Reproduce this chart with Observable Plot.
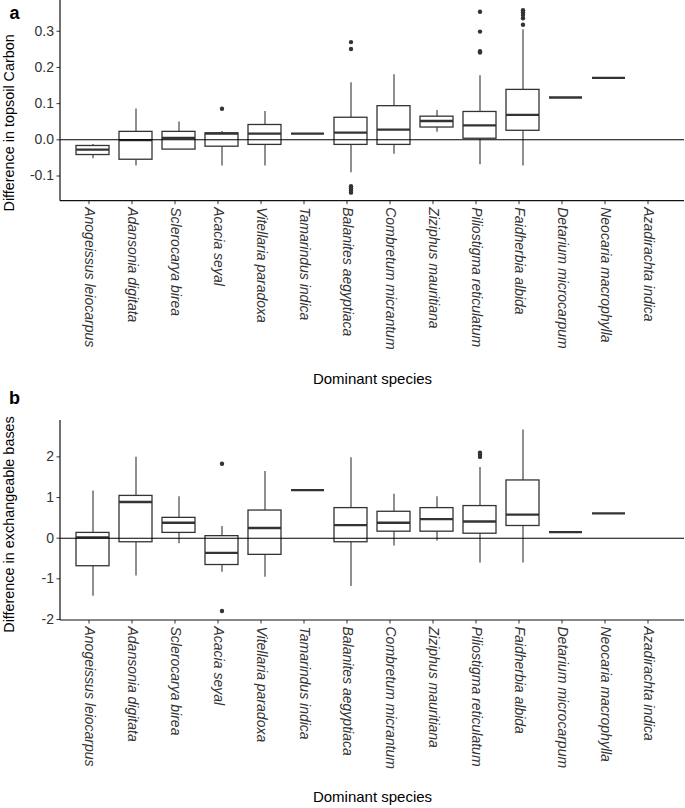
<!DOCTYPE html>
<html>
<head>
<meta charset="utf-8">
<script src="https://cdn.jsdelivr.net/npm/d3@7"></script>
<script src="https://cdn.jsdelivr.net/npm/@observablehq/plot@0.6"></script>
<style>
  html, body { margin: 0; padding: 0; background: #fff; }
  #chart { width: 685px; }
  #chart svg { display: block; }
</style>
</head>
<body>
<div id="chart"></div>
<script>
// ---- Categories ----
const species = [
  "Anogeissus leiocarpus", "Adansonia digitata", "Sclerocarya birea", "Acacia seyal",
  "Vitellaria paradoxa", "Tamarindus indica", "Balanites aegyptiaca", "Combretum micrantum",
  "Ziziphus mauritiana", "Piliostigma reticulatum", "Faidherbia albida",
  "Detarium microcarpum", "Neocaria macrophylla", "Azadirachta indica"
];

// ---- Panel a: difference in topsoil carbon ----
const carbonLow  = [-0.052, -0.072, -0.027, -0.072, -0.072, 0.017, -0.091, -0.040, 0.021, -0.069, -0.072, 0.117, 0.171, null];
const carbonQ1   = [-0.042, -0.055, -0.027, -0.019, -0.014, 0.017, -0.014, -0.014, 0.034,  0.003,  0.025, 0.117, 0.171, null];
const carbonMed  = [-0.027, -0.001,  0.005,  0.017,  0.017, 0.017,  0.020,  0.028, 0.052,  0.040,  0.069, 0.117, 0.171, null];
const carbonQ3   = [-0.017,  0.022,  0.022,  0.018,  0.041, 0.017,  0.061,  0.093, 0.064,  0.077,  0.138, 0.117, 0.171, null];
const carbonHigh = [-0.013,  0.085,  0.049,  0.023,  0.078, 0.017,  0.158,  0.180, 0.081,  0.177,  0.304, 0.117, 0.171, null];
const carbonOutSpecies = [
  "Acacia seyal",
  "Balanites aegyptiaca", "Balanites aegyptiaca", "Balanites aegyptiaca", "Balanites aegyptiaca", "Balanites aegyptiaca", "Balanites aegyptiaca",
  "Piliostigma reticulatum", "Piliostigma reticulatum", "Piliostigma reticulatum", "Piliostigma reticulatum",
  "Faidherbia albida", "Faidherbia albida", "Faidherbia albida", "Faidherbia albida", "Faidherbia albida"
];
const carbonOutValues = [
  0.086,
  0.270, 0.251, -0.128, -0.134, -0.140, -0.146,
  0.354, 0.299, 0.245, 0.241,
  0.318, 0.336, 0.345, 0.352, 0.358
];
const carbonTicks = [-0.1, 0, 0.1, 0.2, 0.3];

// ---- Panel b: difference in exchangeable bases ----
const basesLow  = [-1.43, -0.93, -0.14, -0.84, -0.96, 1.18, -1.19, -0.19, -0.07, -0.61, -0.61, 0.15, 0.61, null];
const basesQ1   = [-0.69, -0.10,  0.13, -0.66, -0.41, 1.18, -0.10,  0.16,  0.16,  0.11,  0.30, 0.15, 0.61, null];
const basesMed  = [ 0.02,  0.89,  0.38, -0.36,  0.25, 1.18,  0.32,  0.38,  0.47,  0.41,  0.58, 0.15, 0.61, null];
const basesQ3   = [ 0.13,  1.04,  0.50,  0.05,  0.68, 1.18,  0.74,  0.65,  0.74,  0.79,  1.42, 0.15, 0.61, null];
const basesHigh = [ 1.16,  1.99,  1.02,  0.29,  1.64, 1.18,  1.98,  1.08,  1.02,  1.74,  2.66, 0.15, 0.61, null];
const basesOutSpecies = ["Acacia seyal", "Acacia seyal", "Piliostigma reticulatum", "Piliostigma reticulatum", "Piliostigma reticulatum"];
const basesOutValues  = [1.83, -1.79, 2.00, 2.05, 2.10];
const basesTicks = [-2, -1, 0, 1, 2];

const FONT = "'Liberation Sans', Arial, Helvetica, sans-serif";
const INK = "#333333";

function axisLines(index, scales, values, dims) {
  const g = document.createElementNS("http://www.w3.org/2000/svg", "g");
  const x0 = dims.marginLeft, x1 = dims.width - dims.marginRight;
  const y0 = dims.marginTop, y1 = dims.height - dims.marginBottom;
  const mk = (a, b, c, d) => {
    const l = document.createElementNS("http://www.w3.org/2000/svg", "line");
    l.setAttribute("x1", a); l.setAttribute("y1", b);
    l.setAttribute("x2", c); l.setAttribute("y2", d);
    l.setAttribute("stroke", "#111");
    l.setAttribute("stroke-width", 1.2);
    g.appendChild(l);
  };
  mk(x0, y0, x0, y1);
  mk(x0, y1, x1, y1);
  return g;
}

function boxPanel(o) {
  const rows = species.map((s, i) => ({
    species: s, low: o.low[i], q1: o.q1[i], med: o.med[i], q3: o.q3[i], high: o.high[i]
  })).filter(d => d.med != null);
  const outs = o.outS.map((s, i) => ({species: s, value: o.outV[i]}));
  return Plot.plot({
    width: 685,
    height: o.height,
    marginLeft: 60,
    marginRight: 1,
    marginTop: o.marginTop,
    marginBottom: o.marginBottom,
    style: {fontFamily: FONT, fontSize: "13px", background: "#fff", color: INK},
    x: {domain: species, paddingInner: 0.23, paddingOuter: 0.215},
    y: {domain: o.yDomain},
    marks: [
      Plot.axisY({ticks: o.yTicks, tickFormat: o.yFormat, tickSize: 3.5, tickPadding: 3, label: null, fontSize: 14, color: INK}),
      Plot.axisX({tickSize: 3.5, tickPadding: 2.5, tickRotate: 90, fontStyle: "italic", fontSize: 14, label: null, dx: -4, color: INK}),
      Plot.ruleX(rows, {x: "species", y1: "low", y2: "high", stroke: INK, strokeWidth: 1.1}),
      Plot.barY(rows, {x: "species", y1: "q1", y2: "q3", fill: "#fff", stroke: INK, strokeWidth: 1.3, inset: 0}),
      Plot.tickY(rows, {x: "species", y: "med", stroke: INK, strokeWidth: 2.3}),
      Plot.dot(outs, {x: "species", y: "value", r: 2.2, fill: INK, stroke: "none"}),
      Plot.ruleY([0], {stroke: "#000", strokeWidth: 1.1}),
      axisLines,
      Plot.text([o.yTitle], {frameAnchor: "left", rotate: -90, dx: -51, dy: o.titleDy, fontSize: 14.4, fill: "#000", textAnchor: "middle", lineAnchor: "middle"}),
      Plot.text(["Dominant species"], {frameAnchor: "bottom", dy: o.xTitleDy, fontSize: 15, fill: "#000", lineAnchor: "bottom"}),
      Plot.text([o.tag], {frameAnchor: "top-left", dx: -46, dy: o.tagDy, fontSize: 18, fontWeight: "bold", fill: "#000", textAnchor: "middle", lineAnchor: "bottom"})
    ]
  });
}

const chart = document.getElementById("chart");
chart.appendChild(boxPanel({
  low: carbonLow, q1: carbonQ1, med: carbonMed, q3: carbonQ3, high: carbonHigh,
  outS: carbonOutSpecies, outV: carbonOutValues,
  yDomain: [-0.1696, 0.385], yTicks: carbonTicks, yFormat: d => d.toFixed(1),
  yTitle: "Difference in topsoil Carbon", tag: "a",
  height: 387, marginTop: 0, marginBottom: 186.3,
  titleDy: 22, xTitleDy: 182.3, tagDy: 18
}));
chart.appendChild(boxPanel({
  low: basesLow, q1: basesQ1, med: basesMed, q3: basesQ3, high: basesHigh,
  outS: basesOutSpecies, outV: basesOutValues,
  yDomain: [-2.025, 2.895], yTicks: basesTicks, yFormat: d => String(d),
  yTitle: "Difference in exchangeable bases", tag: "b",
  height: 421, marginTop: 33, marginBottom: 188,
  titleDy: 4, xTitleDy: 181, tagDy: -17
}));
</script>
</body>
</html>
